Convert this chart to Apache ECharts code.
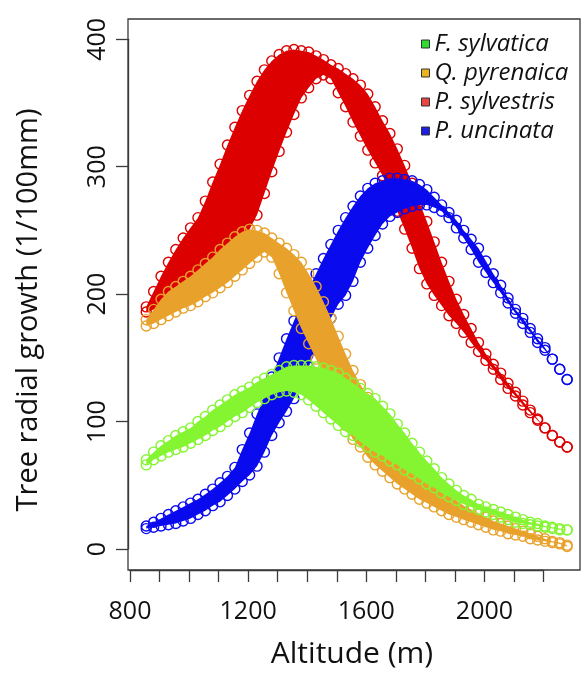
<!DOCTYPE html>
<html>
<head>
<meta charset="utf-8">
<script src="https://cdn.jsdelivr.net/npm/echarts@6/dist/echarts.min.js"></script>
<style>
html,body{margin:0;padding:0;background:#fff;}
#chart{width:582px;height:673px;}
</style>
</head>
<body>
<div id="chart"></div>
<script>
// Altitude positions (m) at which the band limits were read
const altitude = [855,880,905,930,955,980,1005,1030,1055,1080,1105,1130,1155,1180,1205,1230,1255,1280,1305,1330,1355,1380,1405,1430,1455,1480,1505,1530,1555,1580,1605,1630,1655,1680,1705,1730,1755,1780,1805,1830,1855,1880,1905,1930,1955,1980,2005,2030,2055,2080,2105,2130,2155,2180,2205,2230,2255,2280];

// Tree radial growth (1/100mm): lower and upper limits of each species' point cloud
const uncinataLow  = [16,17,18,19,20,22,24,27,30,34,37,42,47,53,58,65,76,89,99,108,118,131,143,156,168,181,192,199,210,225,236,246,255,261,264,267,269,270,270,268,265,260,252,244,235,225,217,209,201,193,185,177,170,162,156,149,141,133];
const uncinataHigh = [18,21,24,27,30,33,36,39,43,47,52,57,64,78,91,106,120,135,150,165,179,192,204,216,228,239,250,260,269,277,283,287,289,291,291,290,289,286,282,276,270,264,258,250,243,236,226,216,207,197,188,181,173,165,158,149,141,133];

const sylvestrisLow  = [186,188,191,194,197,200,203,207,211,215,220,226,233,241,251,262,279,296,312,327,341,354,362,369,372,369,358,347,335,324,313,303,293,280,265,251,236,220,208,199,191,183,177,170,162,155,148,141,133,126,120,113,107,101,95,89,84,80];
const sylvestrisHigh = [190,202,214,225,235,244,252,260,273,288,302,317,331,344,356,367,376,383,388,391,392,391,390,387,384,380,377,373,369,364,357,347,336,326,314,301,287,272,257,241,225,210,196,184,173,162,153,145,138,130,123,116,109,102,95,89,84,80];

const pyrenaicaLow  = [175,177,180,183,186,189,191,194,198,201,205,209,214,219,224,229,233,229,216,201,187,173,161,149,136,123,110,97,86,80,72,66,61,56,51,47,43,39,36,33,30,27,25,23,21,19,17,15,14,12,11,10,8,7,6,5,4,2];
const pyrenaicaHigh = [180,188,196,202,206,210,214,219,224,229,235,240,245,249,251,250,248,244,240,236,231,225,216,206,194,181,167,153,140,129,119,110,101,93,85,78,71,64,58,52,47,42,38,34,31,28,25,22,20,18,16,14,12,10,8,6,5,3];

const sylvaticaLow  = [66,70,73,76,78,80,83,86,89,93,96,100,104,107,111,115,118,121,123,124,123,121,117,112,107,102,97,92,89,84,80,76,73,69,66,62,59,55,51,48,44,41,38,35,33,31,29,27,25,23,21,20,19,18,17,16,15,15];
const sylvaticaHigh = [70,76,81,85,89,92,95,100,104,109,113,117,121,124,127,131,134,137,140,143,144,144,144,143,142,140,138,134,130,126,122,118,112,106,98,91,83,76,69,63,56,51,46,42,39,35,33,31,29,27,25,23,21,20,18,17,16,15];

const speciesNames = ['F. sylvatica','Q. pyrenaica','P. sylvestris','P. uncinata'];
const xTickLabels = [800,1200,1600,2000];
const yTickLabels = [0,100,200,300,400];

const FONT = '"Open Sans", "Noto Sans", sans-serif';
const pointColors = {'P. uncinata':'#0A0AEE','P. sylvestris':'#DD0000','Q. pyrenaica':'#E8A22C','F. sylvatica':'#85F532'};
const legendColors = {'F. sylvatica':'#33DA33','Q. pyrenaica':'#E8B324','P. sylvestris':'#E84545','P. uncinata':'#1E1EE2'};

// drawing order: bottom -> top
const bands = [
  {name:'P. sylvestris', low:sylvestrisLow, high:sylvestrisHigh},
  {name:'P. uncinata', low:uncinataLow, high:uncinataHigh},
  {name:'Q. pyrenaica', low:pyrenaicaLow, high:pyrenaicaHigh},
  {name:'F. sylvatica', low:sylvaticaLow, high:sylvaticaHigh}
];

const series = [];
bands.forEach(function(b, k){
  const col = pointColors[b.name];
  series.push({
    type:'custom', xAxisIndex:0, yAxisIndex:0, silent:true, z:2 + k * 2,
    data:[[altitude[0], b.low[0]]],
    renderItem:function(params, api){
      const pts = [];
      for (let i = 0; i < altitude.length; i++) pts.push(api.coord([altitude[i], b.high[i]]));
      for (let i = altitude.length - 1; i >= 0; i--) pts.push(api.coord([altitude[i], b.low[i]]));
      return {type:'polygon', shape:{points:pts}, style:{fill:col}};
    }
  });
  const pts = altitude.map(function(a,i){return [a, b.low[i]];})
    .concat(altitude.map(function(a,i){return [a, b.high[i]];}));
  series.push({
    type:'scatter', name:b.name, xAxisIndex:0, yAxisIndex:0, z:3 + k * 2,
    symbol:'circle', symbolSize:10, data:pts, silent:true,
    itemStyle:{color:'rgba(0,0,0,0)', borderColor:col, borderWidth:1.4, opacity:1}
  });
});

const axisColor = '#3a3a3a';
const option = {
  animation:false,
  backgroundColor:'#fff',
  grid:[
    {left:128, top:19, width:452, height:551, show:true, borderColor:axisColor, borderWidth:1.3, backgroundColor:'rgba(0,0,0,0)', z:20},
    {left:130, top:19, width:413.5, height:551},
    {left:128, top:39.3, width:452, height:509.7}
  ],
  xAxis:[
    {gridIndex:0, type:'value', min:793.2, max:2323.6, show:false},
    {gridIndex:1, type:'value', min:800, max:2200, interval:100, position:'bottom',
      axisLine:{show:true, lineStyle:{color:axisColor, width:1.3}},
      axisTick:{show:true, length:12, lineStyle:{color:axisColor, width:1.3}},
      splitLine:{show:false},
      axisLabel:{margin:29, fontSize:25, fontFamily:FONT, color:'#111',
        formatter:function(v){return xTickLabels.indexOf(v) >= 0 ? String(v) : '';}}
    },
    {gridIndex:2, type:'value', show:false}
  ],
  yAxis:[
    {gridIndex:0, type:'value', min:-16.5, max:415.9, show:false},
    {gridIndex:1, type:'value', show:false},
    {gridIndex:2, type:'value', min:0, max:400, interval:100, position:'left',
      axisLine:{show:true, lineStyle:{color:axisColor, width:1.3}},
      axisTick:{show:true, length:12, lineStyle:{color:axisColor, width:1.3}},
      splitLine:{show:false},
      axisLabel:{margin:18, rotate:90, fontSize:25, fontFamily:FONT, color:'#111',
        formatter:function(v){return yTickLabels.indexOf(v) >= 0 ? String(v) : '';}}
    }
  ],
  legend:{
    orient:'vertical', left:421, top:32, padding:0, itemWidth:8, itemHeight:8, itemGap:5,
    icon:'rect', selectedMode:false, z:30,
    textStyle:{fontSize:24, fontStyle:'italic', fontFamily:FONT, color:'#111', lineHeight:23},
    data:speciesNames.map(function(n){
      return {name:n, icon:'rect', itemStyle:{color:legendColors[n], borderColor:'#333', borderWidth:1}};
    })
  },
  graphic:[
    {type:'text', x:352, y:654, style:{text:'Altitude (m)', fontSize:30, fontFamily:FONT, fill:'#111', align:'center', verticalAlign:'middle'}},
    {type:'text', x:29, y:310, rotation:Math.PI/2, style:{text:'Tree radial growth (1/100mm)', fontSize:29, fontFamily:FONT, fill:'#111', align:'center', verticalAlign:'middle'}}
  ],
  series:series
};
const chart = echarts.init(document.getElementById('chart'), null, {renderer:'canvas'});
chart.setOption(option);
</script>
</body>
</html>
